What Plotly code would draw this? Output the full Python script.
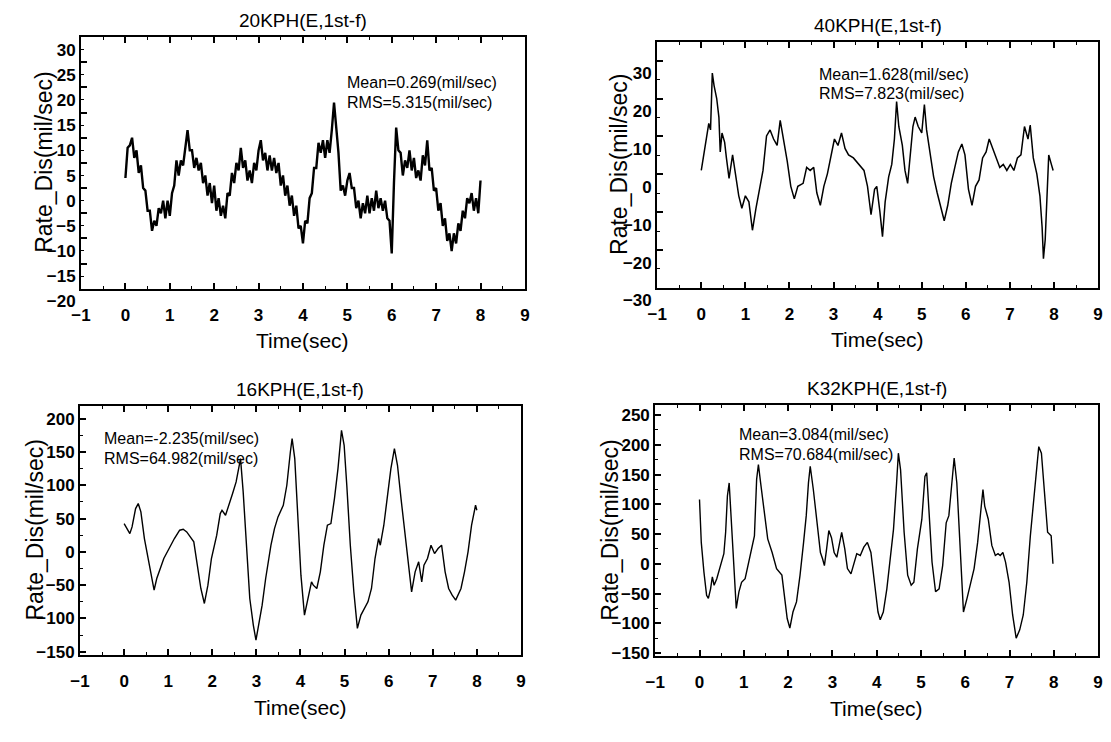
import plotly.graph_objects as go

# ---------------- data ----------------
titles = ["20KPH(E,1st-f)", "40KPH(E,1st-f)", "16KPH(E,1st-f)", "K32KPH(E,1st-f)"]
mean_texts = ["Mean=0.269(mil/sec)", "Mean=1.628(mil/sec)", "Mean=-2.235(mil/sec)", "Mean=3.084(mil/sec)"]
rms_texts = ["RMS=5.315(mil/sec)", "RMS=7.823(mil/sec)", "RMS=64.982(mil/sec)", "RMS=70.684(mil/sec)"]

# 20KPH : sampled every 0.05 s from 0 to 8 s
dt_20 = 0.05
v_20 = [2.0, 8.0, 8.5, 10.0, 6.0, 7.5, 3.0, 4.5, 0.0, -0.5,
        -4.5, -4.5, -8.5, -6.5, -7.5, -4.0, -5.0, -2.5, -6.0, -2.5,
        -5.5, -1.0, 0.5, 5.5, 2.5, 5.5, 4.5, 8.5, 11.5, 7.5,
        7.5, 4.0, 6.0, 3.5, 5.0, 1.0, 2.5, -1.5, 1.0, -3.0,
        0.5, -4.5, -2.0, -5.5, -3.5, -6.0, -1.0, -1.5, 3.0, 1.0,
        5.0, 3.5, 8.0, 4.0, 5.5, 1.5, 3.5, 1.0, 5.0, 3.5,
        7.5, 9.5, 5.5, 7.0, 3.5, 6.5, 3.5, 6.0, 3.0, 5.0,
        0.5, 2.5, -1.5, 0.5, -3.5, -1.5, -5.5, -3.5, -8.0, -7.5,
        -11.0, -6.5, -7.0, -2.0, -1.0, 4.0, 4.0, 9.0, 7.0, 9.5,
        6.0, 9.5, 7.0, 11.5, 17.0, 12.0, 7.0, -0.5, 0.5, -1.5,
        1.5, 3.0, 0.0, 0.0, -4.0, -2.5, -6.0, -3.0, -5.0, -1.5,
        -5.0, -2.0, -4.5, -0.5, -4.0, -2.0, -4.5, -2.5, -6.0, -6.5,
        -13.0, 1.0, 12.0, 7.5, 7.0, 2.5, 5.5, 4.0, 7.5, 3.5,
        6.0, 2.0, 3.5, 1.5, 6.5, 4.5, 9.5, 3.5, 4.0, -0.5,
        0.0, -4.5, -3.0, -7.5, -6.0, -10.5, -9.0, -12.5, -9.0, -11.0,
        -7.0, -8.5, -4.5, -6.0, -2.0, -3.0, -1.0, -4.5, -2.0, -5.0,
        1.5]

t_40 = [0.0, 0.05, 0.13, 0.17, 0.21, 0.25, 0.29, 0.35, 0.40, 0.43,
        0.47, 0.53, 0.57, 0.63, 0.71, 0.77, 0.85, 0.92, 1.00, 1.08,
        1.16, 1.24, 1.32, 1.40, 1.48, 1.56, 1.64, 1.72, 1.79, 1.87,
        1.95, 2.03, 2.11, 2.19, 2.31, 2.39, 2.47, 2.55, 2.62, 2.70,
        2.78, 2.86, 2.94, 3.02, 3.10, 3.18, 3.26, 3.34, 3.45, 3.57,
        3.69, 3.77, 3.85, 3.93, 3.98, 4.05, 4.11, 4.17, 4.25, 4.32,
        4.38, 4.43, 4.48, 4.56, 4.62, 4.68, 4.74, 4.80, 4.85, 4.92,
        5.00, 5.06, 5.11, 5.19, 5.27, 5.35, 5.43, 5.51, 5.59, 5.67,
        5.75, 5.83, 5.91, 5.98, 6.06, 6.14, 6.22, 6.30, 6.38, 6.46,
        6.53, 6.61, 6.69, 6.77, 6.85, 6.93, 7.01, 7.09, 7.17, 7.25,
        7.33, 7.41, 7.46, 7.53, 7.61, 7.68, 7.73, 7.76, 7.80, 7.84,
        7.88, 7.94, 7.98]
v_40 = [1.0, 5.0, 10.9, 13.4, 11.7, 26.7, 23.4, 20.0, 15.0, 5.9,
        10.9, 8.4, 4.3, -1.1, 5.1, 0.1, -5.7, -9.0, -5.7, -7.3,
        -14.8, -9.0, -4.0, 1.0, 10.1, 11.7, 9.3, 7.6, 14.2, 9.3,
        3.4, -3.2, -6.5, -3.2, -2.4, 1.8, 1.0, 1.8, -4.9, -8.2,
        -3.2, 0.1, 5.1, 9.3, 7.6, 10.9, 6.8, 5.1, 4.3, 2.6,
        1.0, -3.2, -10.7, -4.0, -3.2, -9.8, -16.5, -7.3, -0.7, 2.6,
        9.3, 19.2, 12.6, 7.6, 1.0, -2.4, 4.3, 12.6, 15.1, 12.6,
        10.9, 18.4, 11.7, 5.1, -0.7, -4.9, -9.0, -12.3, -8.2, -2.4,
        1.8, 5.9, 8.0, 5.1, -4.0, -8.2, -3.2, -1.5, 4.3, 5.9,
        9.3, 6.8, 4.3, 1.8, 2.6, 1.0, 2.6, 1.0, 4.3, 5.1,
        12.6, 9.3, 13.0, 4.3, 0.1, -5.7, -14.0, -22.3, -17.3, -5.7,
        5.1, 2.6, 1.0]

t_16 = [0.0, 0.06, 0.13, 0.18, 0.26, 0.32, 0.38, 0.46, 0.54, 0.62,
        0.68, 0.74, 0.82, 0.90, 1.02, 1.14, 1.26, 1.34, 1.42, 1.54,
        1.58, 1.66, 1.74, 1.82, 1.90, 1.98, 2.10, 2.18, 2.22, 2.30,
        2.38, 2.46, 2.54, 2.60, 2.64, 2.70, 2.78, 2.85, 2.93, 2.99,
        3.05, 3.13, 3.21, 3.33, 3.41, 3.49, 3.61, 3.69, 3.77, 3.81,
        3.87, 3.93, 4.01, 4.09, 4.17, 4.25, 4.29, 4.37, 4.45, 4.53,
        4.61, 4.69, 4.77, 4.85, 4.93, 4.99, 5.05, 5.13, 5.21, 5.29,
        5.37, 5.45, 5.53, 5.61, 5.69, 5.77, 5.81, 5.89, 5.97, 6.05,
        6.13, 6.20, 6.28, 6.36, 6.44, 6.52, 6.60, 6.68, 6.75, 6.80,
        6.88, 6.96, 7.04, 7.12, 7.20, 7.28, 7.36, 7.44, 7.52, 7.64,
        7.72, 7.80, 7.88, 7.97, 8.00]
v_16 = [42.5, 35.0, 27.5, 37.5, 65.0, 72.5, 60.0, 20.0, -10.0, -40.0,
        -57.5, -40.0, -25.0, -10.0, 5.0, 20.0, 32.5, 34.0, 30.0, 17.5,
        15.0, -20.0, -55.0, -77.5, -50.0, -10.0, 25.0, 57.5, 62.5, 55.0,
        70.0, 87.5, 105.0, 127.5, 140.0, 90.0, 5.0, -70.0, -110.0, -132.5,
        -110.0, -80.0, -40.0, 10.0, 35.0, 52.5, 70.0, 100.0, 150.0, 170.0,
        140.0, 65.0, -35.0, -95.0, -70.0, -45.0, -50.0, -55.0, -30.0, 10.0,
        40.0, 42.5, 80.0, 125.0, 182.5, 160.0, 100.0, 10.0, -60.0, -115.0,
        -95.0, -85.0, -75.0, -55.0, -10.0, 20.0, 10.0, 40.0, 80.0, 125.0,
        155.0, 130.0, 80.0, 30.0, -15.0, -60.0, -30.0, -15.0, -45.0, -20.0,
        -10.0, 10.0, -2.5, 5.0, 10.0, -30.0, -55.0, -65.0, -72.5, -55.0,
        -30.0, 0.0, 40.0, 70.0, 62.5]

t_32 = [0.0, 0.04, 0.10, 0.16, 0.20, 0.25, 0.29, 0.33, 0.39, 0.47,
        0.55, 0.59, 0.63, 0.67, 0.71, 0.77, 0.83, 0.89, 0.95, 1.03,
        1.11, 1.18, 1.24, 1.29, 1.33, 1.38, 1.46, 1.54, 1.64, 1.74,
        1.86, 1.92, 1.98, 2.04, 2.11, 2.19, 2.27, 2.35, 2.41, 2.46,
        2.50, 2.57, 2.65, 2.73, 2.78, 2.82, 2.87, 2.92, 2.98, 3.04,
        3.10, 3.16, 3.21, 3.28, 3.34, 3.42, 3.50, 3.55, 3.63, 3.71,
        3.79, 3.87, 3.95, 4.03, 4.08, 4.15, 4.23, 4.30, 4.38, 4.45,
        4.49, 4.54, 4.62, 4.70, 4.78, 4.84, 4.92, 5.02, 5.09, 5.13,
        5.19, 5.25, 5.33, 5.41, 5.49, 5.57, 5.63, 5.69, 5.75, 5.81,
        5.89, 5.96, 6.04, 6.12, 6.20, 6.28, 6.36, 6.40, 6.44, 6.52,
        6.60, 6.68, 6.74, 6.79, 6.85, 6.91, 6.99, 7.07, 7.15, 7.23,
        7.31, 7.39, 7.47, 7.55, 7.61, 7.66, 7.72, 7.78, 7.86, 7.94,
        7.98]
v_32 = [108, 36, -14, -53, -58, -42, -22, -36, -25, -3,
        17, 53, 114, 136, 86, -8, -75, -47, -31, -25,
        3, 25, 47, 142, 167, 136, 86, 42, 19, -8,
        -19, -53, -92, -108, -81, -64, -19, 36, 81, 136,
        164, 125, 69, 19, 8, -3, 25, 56, 44, 19,
        11, 36, 53, 25, -8, -17, 3, 17, 14, 28,
        36, 19, -31, -81, -94, -81, -42, 3, 58, 136,
        186, 158, 53, -19, -36, -31, 25, 75, 147, 153,
        81, 3, -47, -42, -3, 69, 81, 125, 178, 136,
        14, -81, -58, -31, -8, 36, 92, 125, 97, 75,
        31, 14, 17, 14, 19, 3, -31, -86, -125, -111,
        -86, -31, 47, 114, 158, 197, 186, 131, 53, 47,
        0]

t_20 = [round(i * dt_20, 2) for i in range(len(v_20))]

series_t = [t_20, t_40, t_16, t_32]
series_v = [v_20, v_40, v_16, v_32]

# ---------------- layout settings ----------------
x_domains = [[0.0648, 0.4698], [0.5905, 0.9928], [0.0639, 0.4662], [0.5887, 0.9928]]
y_domains = [[0.5984, 0.9488], [0.5997, 0.9420], [0.0889, 0.4353], [0.0876, 0.4367]]
y_ranges = [[-20, 30.05], [-30, 35], [-155, 219], [-155, 267]]
y_dticks = [5, 10, 50, 50]
y_minor = [2.5, 5, 25, 25]
y_labelpos = ["outside bottom", "outside bottom", "outside", "outside"]
ytitle_shift = [-37, -38, -45, -46]
line_widths = [2.4, 1.5, 1.4, 1.4]
# annotation anchor (data coords): left edge x, first line y, second line y
ann_pos = [(4.94, 20.9, 17.1), (2.62, 26.3, 21.3), (-0.51, 170, 140), (0.85, 217, 183)]

FONT = "Liberation Sans, Arial, sans-serif"
TICKFONT = "Liberation Sans, Arial, sans-serif"

fig = go.Figure()
layout_axes = {}
annotations = []
for i in range(4):
    xa = "x" if i == 0 else f"x{i+1}"
    ya = "y" if i == 0 else f"y{i+1}"
    fig.add_trace(go.Scatter(x=series_t[i], y=series_v[i], mode="lines",
                             line=dict(color="black", width=line_widths[i]),
                             xaxis=xa, yaxis=ya, showlegend=False,
                             hoverinfo="skip"))
    xkey = "xaxis" if i == 0 else f"xaxis{i+1}"
    ykey = "yaxis" if i == 0 else f"yaxis{i+1}"
    layout_axes[xkey] = dict(
        domain=x_domains[i], anchor=ya, range=[-1, 9], dtick=1, tick0=0,
        ticks="inside", ticklen=6, tickwidth=1.5, tickcolor="black",
        minor=dict(dtick=0.5, ticks="inside", ticklen=3, tickwidth=1.2, tickcolor="black"),
        showline=True, linecolor="black", linewidth=2, mirror="ticks",
        showgrid=False, zeroline=False, ticklabelstandoff=10,
        ticklabeloverflow="allow",
        tickfont=dict(family=TICKFONT, size=17, color="black", weight="bold"),
        fixedrange=True)
    layout_axes[ykey] = dict(
        domain=y_domains[i], anchor=xa, range=y_ranges[i], dtick=y_dticks[i], tick0=0,
        ticks="inside", ticklen=6, tickwidth=1.5, tickcolor="black",
        minor=dict(dtick=y_minor[i], ticks="inside", ticklen=3, tickwidth=1.2, tickcolor="black"),
        showline=True, linecolor="black", linewidth=2, mirror=True,
        showgrid=False, zeroline=False, ticklabelposition=y_labelpos[i],
        ticklabeloverflow="allow",
        tickfont=dict(family=TICKFONT, size=17, color="black", weight="bold"),
        fixedrange=True)
    xd = xa + " domain"
    yd = ya + " domain"
    # subplot title
    annotations.append(dict(text=titles[i], xref=xd, yref=yd, x=0.5, y=1.0,
                            yanchor="bottom", xanchor="center", yshift=4, showarrow=False,
                            font=dict(family=FONT, size=19, color="black")))
    # axis titles
    annotations.append(dict(text="Time(sec)", xref=xd, yref=yd, x=0.5, y=0.0,
                            yanchor="middle", xanchor="center", yshift=-52, showarrow=False,
                            font=dict(family=FONT, size=21, color="black")))
    annotations.append(dict(text="Rate_Dis(mil/sec)", xref=xd, yref=yd, x=0.0, y=0.5,
                            yanchor="middle", xanchor="center", xshift=ytitle_shift[i],
                            textangle=-90, showarrow=False,
                            font=dict(family=FONT, size=23, color="black")))
    # statistics
    ax0, ay1, ay2 = ann_pos[i]
    annotations.append(dict(text=mean_texts[i], xref=xa, yref=ya, x=ax0, y=ay1,
                            xanchor="left", yanchor="middle", showarrow=False,
                            font=dict(family=FONT, size=16, color="black")))
    annotations.append(dict(text=rms_texts[i], xref=xa, yref=ya, x=ax0, y=ay2,
                            xanchor="left", yanchor="middle", showarrow=False,
                            font=dict(family=FONT, size=16, color="black")))

fig.update_layout(**layout_axes)
fig.update_layout(
    width=1111, height=742,
    margin=dict(l=0, r=0, t=0, b=0),
    paper_bgcolor="white", plot_bgcolor="white",
    annotations=annotations,
    showlegend=False,
)

fig.write_html("out.html", config={"displayModeBar": False},
               post_script="document.body.style.margin='0px';")
